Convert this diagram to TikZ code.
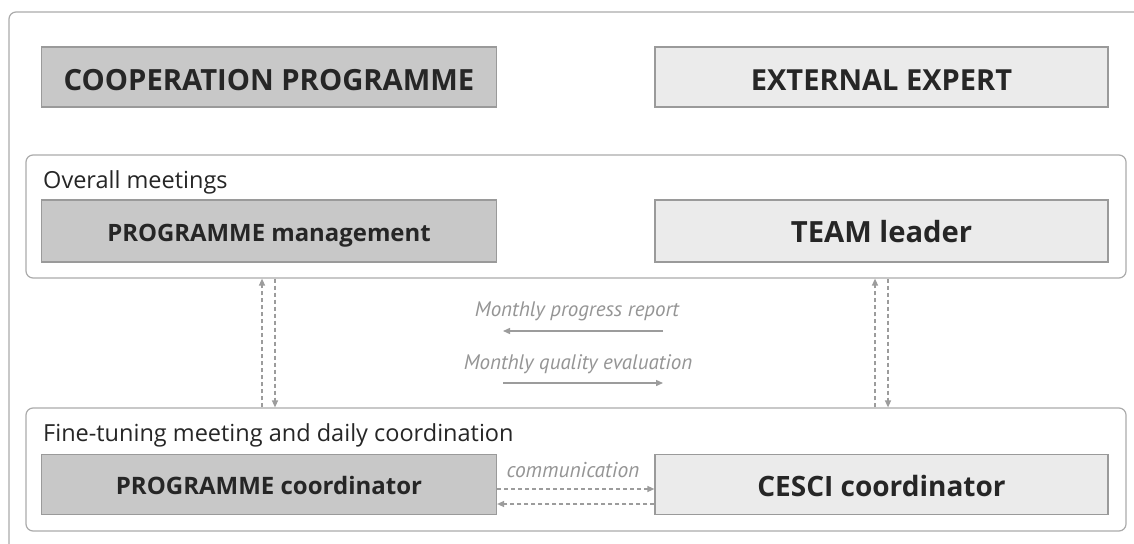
\documentclass[tikz,border=0pt]{standalone}
\usepackage{fontspec}
\setmainfont{Open Sans}
\newfontfamily\labfont{PT Sans}
\usetikzlibrary{arrows.meta,calc}
\definecolor{txt}{HTML}{262626}
\definecolor{darkfill}{HTML}{C8C8C8}
\definecolor{lightfill}{HTML}{EBEBEB}
\definecolor{boxline}{HTML}{9A9A9A}
\definecolor{frameline}{HTML}{ABABAB}
\definecolor{arrowc}{HTML}{9C9C9C}
\definecolor{labc}{HTML}{959595}
\begin{document}
\begin{tikzpicture}[x=1pt,y=-1pt,
  darkbox/.style={draw=boxline,line width=1.2pt,fill=darkfill,minimum width=455pt,minimum height=60pt,inner sep=0pt},
  lightbox/.style={draw=boxline,line width=1.2pt,fill=lightfill,minimum width=453pt,minimum height=60pt,inner sep=0pt},
  boxtext/.style={anchor=base,inner sep=0pt,text=txt},
  container/.style={draw=frameline,line width=1.2pt,rounded corners=7pt,minimum width=1100pt,minimum height=123pt,inner sep=0pt},
  grouplabel/.style={anchor=base west,inner sep=0pt,text=txt,font=\fontsize{23.5}{27}\selectfont},
  italab/.style={inner sep=0pt,text=labc,font=\labfont\itshape\fontsize{21}{24}\selectfont},
  flow/.style={draw=arrowc,line width=1.4pt,-{Triangle[width=6pt,length=7pt]}},
  dflow/.style={flow,line width=1.3pt,dash pattern=on 4pt off 3pt}]
\useasboundingbox (0,0) rectangle (1134,543);
\fill[white] (0,0) rectangle (1134,543);
% outer frame
\draw[frameline,line width=1.2pt,rounded corners=7pt] (9,560) -- (9,12) -- (1150,12);
% top boxes
\node[darkbox] (coop) at (269,77) {};
\node[boxtext,font=\bfseries\fontsize{29.2}{33}\selectfont] (cooptxt) at (269,90.5) {COOPERATION PROGRAMME};
\node[lightbox] (ext) at (881.5,77) {};
\node[boxtext,font=\bfseries\fontsize{29}{33}\selectfont] (exttxt) at (881.5,90.5) {EXTERNAL EXPERT};
% containers
\node[container] (ovr) at (576,216.5) {};
\node[container] (fine) at (576,469.5) {};
\node[grouplabel] (ovrlab) at (43,188) {Overall meetings};
\node[grouplabel] (finelab) at (43,441) {Fine-tuning meeting and daily coordination};
% inner boxes
\node[darkbox,minimum height=62pt] (pm) at (269,231) {};
\node[boxtext,font=\bfseries\fontsize{23.9}{27}\selectfont] (pmtxt) at (269,241) {PROGRAMME management};
\node[lightbox,minimum height=62pt] (tl) at (881.5,231) {};
\node[boxtext,font=\bfseries\fontsize{29.2}{33}\selectfont] (tltxt) at (881.5,242.5) {TEAM leader};
\node[darkbox] (pc) at (269,484.5) {};
\node[boxtext,font=\bfseries\fontsize{24}{27}\selectfont] (pctxt) at (269,494) {PROGRAMME coordinator};
\node[lightbox] (cc) at (881.5,484.5) {};
\node[boxtext,font=\bfseries\fontsize{28}{32}\selectfont] (cctxt) at (881.5,496) {CESCI coordinator};
% vertical dashed connectors
\coordinate (v1) at (262,0);
\coordinate (v2) at (275,0);
\coordinate (v3) at (875,0);
\coordinate (v4) at (888,0);
\draw[dflow] (fine.north -| v1) -- (ovr.south -| v1);
\draw[dflow] (ovr.south -| v2) -- (fine.north -| v2);
\draw[dflow] (fine.north -| v3) -- (ovr.south -| v3);
\draw[dflow] (ovr.south -| v4) -- (fine.north -| v4);
% monthly flows
\node[italab] (mpr) at (577,311) {Monthly progress report};
\node[italab] (mqe) at (578,364) {Monthly quality evaluation};
\coordinate (p1) at (663,331);
\coordinate (p2) at (503,331);
\coordinate (q1) at (503,383);
\coordinate (q2) at (663,383);
\draw[flow] (p1) -- (p2);
\draw[flow] (q1) -- (q2);
% communication
\node[italab,font=\labfont\itshape\fontsize{21.5}{24}\selectfont] (com) at (573,470) {communication};
\coordinate (c1) at (0,489);
\coordinate (c2) at (0,504);
\draw[dflow] (pc.east |- c1) -- (cc.west |- c1);
\draw[dflow] (cc.west |- c2) -- (pc.east |- c2);
\end{tikzpicture}
\end{document}
